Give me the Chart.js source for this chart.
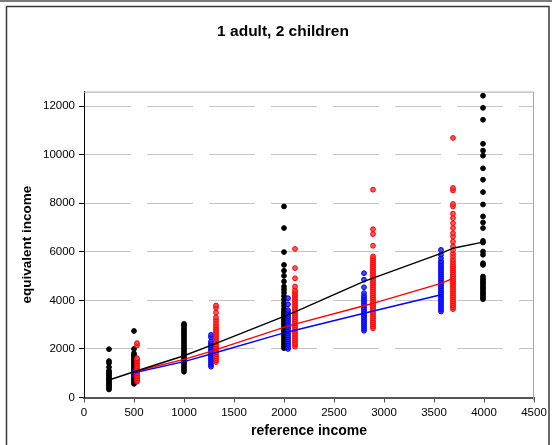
<!DOCTYPE html>
<html>
<head>
<meta charset="utf-8">
<script src="https://cdn.jsdelivr.net/npm/chart.js@4/dist/chart.umd.min.js"></script>
<style>
    html, body { margin: 0; padding: 0; background: #fff; }
    #wrap { width: 552px; height: 445px; }
</style>
</head>
<body>
<div id="wrap"><canvas id="chart" width="552" height="445"></canvas></div>
<script>
/**
 * Ось X: положения столбиков точек (reference income).
 */
const X_TICKS = [0, 500, 1000, 1500, 2000, 2500, 3000, 3500, 4000, 4500];
const Y_TICKS = [0, 2000, 4000, 6000, 8000, 10000, 12000];

const blackX = [250, 500, 1000, 2000, 3990];
const redX = [530, 1320, 2110, 2890, 3690];
const blueX = [510, 1270, 2040, 2800, 3570];

/**
 * Значения equivalent income в каждом столбике.
 */
const blackY = [
    [330, 390, 450, 510, 570, 630, 690, 750, 810, 870, 930, 990, 1050, 1100, 1250, 1420, 1500, 1990],
    [560, 630, 700, 770, 840, 910, 980, 1050, 1120, 1190, 1260, 1330, 1400, 1470, 1540, 1610, 1680, 1750, 1820, 2000, 2740],
    [1060, 1140, 1220, 1300, 1380, 1460, 1540, 1620, 1700, 1780, 1860, 1940, 2020, 2100, 2180, 2260, 2340, 2420, 2500, 2580, 2660, 2740, 2820, 2900, 2970, 3030],
    [2030, 2110, 2190, 2270, 2350, 2430, 2510, 2590, 2670, 2750, 2830, 2910, 2990, 3070, 3150, 3230, 3310, 3390, 3470, 3550, 3650, 3780, 3900, 4040, 4180, 4320, 4450, 4570, 4780, 5010, 5220, 5460, 5990, 6980, 7870],
    [4050, 4120, 4190, 4260, 4330, 4400, 4470, 4540, 4610, 4680, 4750, 4820, 4890, 4980, 5460, 5530, 5880, 6010, 6380, 6450, 6980, 7210, 7460, 7950, 8460, 8970, 9440, 9960, 10170, 10450, 11440, 11930, 12430]
];
const redY = [
    [650, 720, 790, 860, 930, 1000, 1070, 1140, 1210, 1280, 1350, 1420, 1490, 1560, 1620, 2140, 2240],
    [1460, 1540, 1620, 1700, 1780, 1860, 1940, 2020, 2100, 2180, 2260, 2340, 2420, 2500, 2580, 2660, 2740, 2820, 2900, 2980, 3080, 3190, 3300, 3500, 3700, 3790],
    [2100, 2180, 2260, 2340, 2420, 2500, 2580, 2660, 2740, 2820, 2900, 2980, 3060, 3140, 3220, 3300, 3380, 3460, 3540, 3620, 3700, 3780, 3860, 3940, 4020, 4100, 4180, 4260, 4340, 4430, 4570, 4910, 5330, 6120],
    [2850, 2930, 3010, 3090, 3170, 3250, 3330, 3410, 3490, 3570, 3650, 3730, 3810, 3890, 3970, 4050, 4130, 4210, 4290, 4370, 4450, 4530, 4610, 4690, 4770, 4850, 4930, 5010, 5090, 5170, 5250, 5330, 5410, 5490, 5570, 5650, 5730, 5810, 6250, 6730, 6930, 8560],
    [3640, 3720, 3800, 3880, 3960, 4040, 4120, 4200, 4280, 4360, 4440, 4520, 4600, 4680, 4760, 4840, 4920, 5000, 5080, 5160, 5240, 5320, 5400, 5480, 5580, 5680, 5800, 5920, 6060, 6220, 6420, 6630, 6770, 6980, 7180, 7390, 7570, 7870, 7970, 8530, 8630, 10690]
];
const blueY = [
    [900, 970, 1040, 1110],
    [1270, 1350, 1430, 1510, 1590, 1670, 1750, 1830, 1910, 1990, 2070, 2150, 2230, 2300, 2480, 2580],
    [2000, 2080, 2160, 2240, 2320, 2400, 2480, 2560, 2640, 2720, 2800, 2880, 2960, 3040, 3120, 3200, 3280, 3360, 3440, 3520, 3600, 3840, 4090],
    [2750, 2830, 2910, 2990, 3070, 3150, 3230, 3310, 3390, 3470, 3550, 3630, 3710, 3790, 3870, 3950, 4030, 4110, 4190, 4300, 4540, 4850, 5120],
    [3540, 3620, 3700, 3780, 3860, 3940, 4020, 4100, 4180, 4260, 4340, 4420, 4500, 4580, 4660, 4740, 4820, 4900, 4980, 5060, 5140, 5220, 5300, 5380, 5460, 5540, 5620, 5740, 5880, 6080]
];

/**
 * Сглаженные кривые (по одной на группу).
 */
const blackLineX = [250, 500, 1000, 1270, 1320, 2000, 2040, 2110, 2800, 2890, 3570, 3690, 3990];
const blackLineY = [720, 1060, 1720, 2150, 2230, 3340, 3410, 3530, 4780, 4920, 5940, 6150, 6400];
const redLineX = [500, 1000, 1270, 1320, 2000, 2040, 2110, 2800, 2890, 3570, 3690];
const redLineY = [1060, 1570, 1900, 1970, 2890, 2940, 3020, 3780, 3880, 4700, 4910];
const blueLineX = [500, 1000, 1270, 2000, 2040, 2800, 3570];
const blueLineY = [1020, 1480, 1790, 2660, 2700, 3470, 4230];

const FONT = 'Arial, "Liberation Sans", sans-serif';

const toPoints = (xs, lists) => xs.flatMap((x, i) => lists[i].map((y) => ({x, y})));
const toLine = (xs, ys) => xs.map((x, i) => ({x, y: ys[i]}));
// подписи без разделителя тысяч
const plainLabel = (value) => String(value);

const onDOMLoaded = () => {
    const CTX = document.getElementById('chart').getContext('2d');

    /**
     * Белый фон и рамка вокруг диаграммы, плюс верх/право области построения.
     */
    const framePlugin = {
        id: 'frame',
        beforeDraw: (chart) => {
            const c = chart.ctx;
            c.save();
            c.fillStyle = '#fff';
            c.fillRect(0, 0, chart.width, chart.height);
            c.fillStyle = '#7a7a7a';
            c.fillRect(0, 0, chart.width, 2);
            c.strokeStyle = '#3a3a3a';
            c.lineWidth = 1.5;
            c.strokeRect(6.5, 6.5, 542.5, 460);
            c.restore();
        },
        beforeDatasetsDraw: (chart) => {
            const {left, top, right, bottom} = chart.chartArea;
            const c = chart.ctx;
            c.save();
            c.strokeStyle = '#a6a6a6';
            c.lineWidth = 1;
            c.beginPath();
            c.moveTo(left, top + 0.5);
            c.lineTo(right - 0.5, top + 0.5);
            c.lineTo(right - 0.5, bottom + 3);
            c.stroke();
            c.restore();
        }
    };

    const pointSet = (data, color, fill) => ({
        type: 'scatter',
        data,
        order: 1,
        pointRadius: 2.4,
        pointHoverRadius: 2.4,
        pointBorderWidth: 1,
        pointBorderColor: color,
        pointBackgroundColor: fill
    });

    const lineSet = (data, color) => ({
        type: 'scatter',
        data,
        order: 0,
        showLine: true,
        borderColor: color,
        borderWidth: 1.4,
        pointRadius: 0,
        fill: false
    });

    window.newChart = new Chart(CTX, {
        type: 'scatter',
        data: {
            datasets: [
                lineSet(toLine(blackLineX, blackLineY), '#000000'),
                lineSet(toLine(redLineX, redLineY), '#ff0000'),
                lineSet(toLine(blueLineX, blueLineY), '#0000ff'),
                pointSet(toPoints(redX, redY), '#ff0000', 'rgba(255, 60, 60, 0.85)'),
                pointSet(toPoints(blueX, blueY), '#0000ff', 'rgba(40, 40, 255, 0.85)'),
                pointSet(toPoints(blackX, blackY), '#000000', '#000000')
            ]
        },
        options: {
            responsive: false,
            animation: false,
            events: [],
            layout: {padding: {left: 32, right: 18, top: 0, bottom: 0}},
            plugins: {
                legend: {display: false},
                tooltip: {enabled: false},
                title: {
                    display: true,
                    text: '1 adult, 2 children',
                    color: '#000',
                    font: {family: FONT, size: 15.5, weight: 'bold'},
                    padding: {top: 22, bottom: 51}
                }
            },
            scales: {
                x: {
                    type: 'linear',
                    min: 0,
                    max: 4500,
                    afterBuildTicks: (scale) => { scale.ticks = X_TICKS.map((value) => ({value})); },
                    afterFit: (scale) => { scale.height = 47.5; },
                    grid: {drawOnChartArea: false, drawTicks: true, tickLength: 5, tickColor: '#555', tickWidth: 1},
                    border: {color: '#555', width: 2},
                    ticks: {color: '#000', font: {family: FONT, size: 11.5}, padding: 3, maxRotation: 0, callback: plainLabel},
                    title: {
                        display: true,
                        text: 'reference income',
                        color: '#000',
                        font: {family: FONT, size: 14, weight: 'bold'},
                        padding: {top: 0, bottom: 5}
                    }
                },
                y: {
                    type: 'linear',
                    min: 0,
                    max: 12600,
                    afterBuildTicks: (scale) => { scale.ticks = Y_TICKS.map((value) => ({value})); },
                    afterFit: (scale) => { scale.width = 52; },
                    grid: {color: '#c4c4c4', lineWidth: 1, tickLength: 5, tickColor: '#000', tickWidth: 1, tickBorderDash: []},
                    border: {color: '#000', width: 1, dash: [46, 16]},
                    ticks: {color: '#000', font: {family: FONT, size: 11.5}, padding: 4, callback: plainLabel},
                    title: {
                        display: true,
                        text: 'equivalent income',
                        color: '#000',
                        font: {family: FONT, size: 13.5, weight: 'bold'},
                        padding: {top: -13, bottom: 0}
                    }
                }
            }
        },
        plugins: [framePlugin]
    });
};

document.addEventListener('DOMContentLoaded', onDOMLoaded);
</script>
</body>
</html>
